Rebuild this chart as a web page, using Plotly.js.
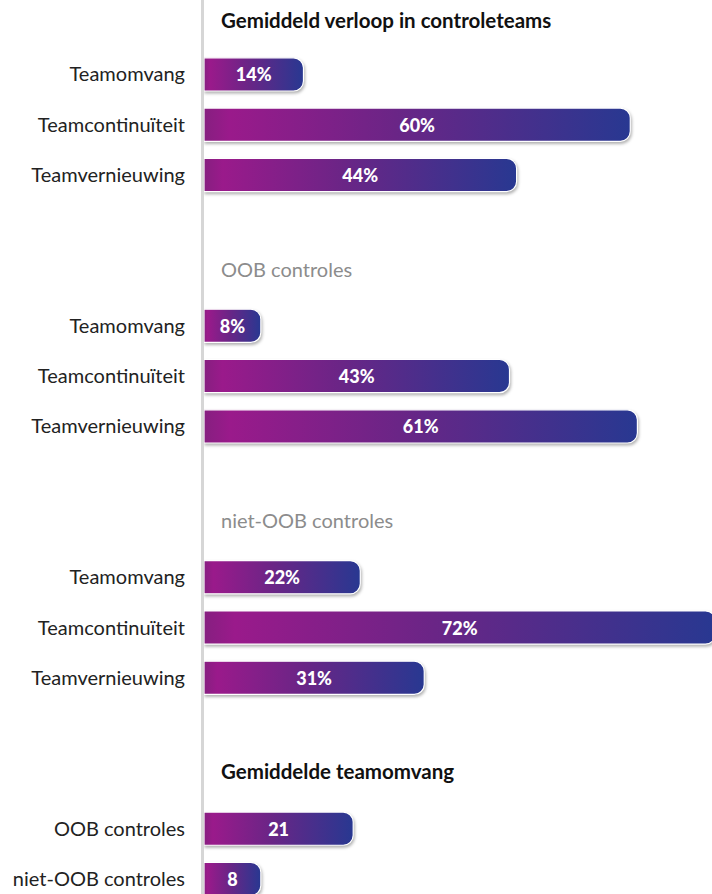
<!DOCTYPE html>
<html>
<head>
<meta charset="utf-8">
<script src="https://cdn.plot.ly/plotly-3.0.1.min.js"></script>
<style>
  html, body { margin: 0; padding: 0; background: #ffffff; }
  #chart { width: 712px; height: 894px; }
  .barlayer .point path { filter: drop-shadow(1px 2px 1.5px rgba(0,0,0,0.30)); }
</style>
</head>
<body>
<div id="chart"></div>
<script>
// ---- data ----
const groupTitles = ['Gemiddeld verloop in controleteams', 'OOB controles', 'niet-OOB controles', 'Gemiddelde teamomvang'];
const groupTitleBold = [true, false, false, true];
const teamCategories = ['Teamomvang', 'Teamcontinuïteit', 'Teamvernieuwing'];
const verloopValues = [14, 60, 44];
const oobValues = [8, 43, 61];
const nietOobValues = [22, 72, 31];
const sizeCategories = ['OOB controles', 'niet-OOB controles'];
const sizeValues = [21, 8];
const groupCategories = [teamCategories, teamCategories, teamCategories, sizeCategories];
const groupValues = [verloopValues, oobValues, nietOobValues, sizeValues];
const groupSuffix = ['%', '%', '%', ''];

// ---- build slot layout: header slot, bar slots, blank slot ----
const ys = [], xs = [], texts = [], tickvals = [], ticktext = [], annotations = [];
let slot = 0;
groupTitles.forEach((t, g) => {
  annotations.push({
    x: 0, xref: 'x', y: slot, yref: 'y', xanchor: 'left', yanchor: 'middle',
    xshift: 15, yshift: g === 0 ? 4 : 7, showarrow: false,
    text: groupTitleBold[g] ? '<b>' + t + '</b>' : t,
    font: { family: 'Lato, sans-serif', size: groupTitleBold[g] ? 20.5 : 20, color: groupTitleBold[g] ? '#111111' : '#8c8c8c' }
  });
  slot += 1;
  groupCategories[g].forEach((c, i) => {
    ys.push(slot);
    xs.push(groupValues[g][i]);
    texts.push(groupValues[g][i] + groupSuffix[g]);
    tickvals.push(slot);
    ticktext.push(c);
    slot += 1;
  });
  slot += 1;
});

const trace = {
  type: 'bar',
  orientation: 'h',
  x: xs,
  y: ys,
  width: 0.66,
  text: texts,
  textposition: 'inside',
  insidetextanchor: 'middle',
  textangle: 0,
  constraintext: 'none',
  textfont: { family: 'Lato, sans-serif', size: 18, color: '#ffffff', weight: 900 },
  marker: { color: '#5a2788', cornerradius: 10, line: { color: '#ffffff', width: 1.2 } },
  hoverinfo: 'none'
};

const layout = {
  width: 712, height: 894,
  margin: { l: 204, r: 0, t: 0, b: 0, pad: 0 },
  paper_bgcolor: '#ffffff', plot_bgcolor: '#ffffff',
  showlegend: false,
  xaxis: { range: [0, 71.5], showgrid: false, zeroline: false, showticklabels: false, showline: false, fixedrange: true },
  yaxis: {
    range: [17.3, -0.48], tickmode: 'array', tickvals: tickvals, ticktext: ticktext,
    showgrid: false, zeroline: false, showline: true, linecolor: '#d6d6d6', linewidth: 3,
    ticks: 'outside', ticklen: 12, tickcolor: 'rgba(0,0,0,0)',
    tickfont: { family: 'Lato, sans-serif', size: 20, color: '#222222' }, fixedrange: true
  },
  annotations: annotations
};

Plotly.newPlot('chart', [trace], layout, { staticPlot: true, displayModeBar: false }).then(gd => {
  const svg = gd.querySelector('.main-svg');
  const ns = 'http://www.w3.org/2000/svg';
  let defs = svg.querySelector('defs');
  if (!defs) { defs = document.createElementNS(ns, 'defs'); svg.insertBefore(defs, svg.firstChild); }
  const grad = document.createElementNS(ns, 'linearGradient');
  grad.setAttribute('id', 'barGrad');
  grad.setAttribute('x1', '0'); grad.setAttribute('y1', '0');
  grad.setAttribute('x2', '1'); grad.setAttribute('y2', '0');
  [['0', '#861f80'], ['0.06', '#9a1a8b'], ['0.45', '#6a2586'], ['1', '#283891']].forEach(([o, c]) => {
    const s = document.createElementNS(ns, 'stop');
    s.setAttribute('offset', o); s.setAttribute('stop-color', c);
    grad.appendChild(s);
  });
  defs.appendChild(grad);
  gd.querySelectorAll('.barlayer .point path').forEach(p => { p.style.fill = 'url(#barGrad)'; });
});
</script>
</body>
</html>
